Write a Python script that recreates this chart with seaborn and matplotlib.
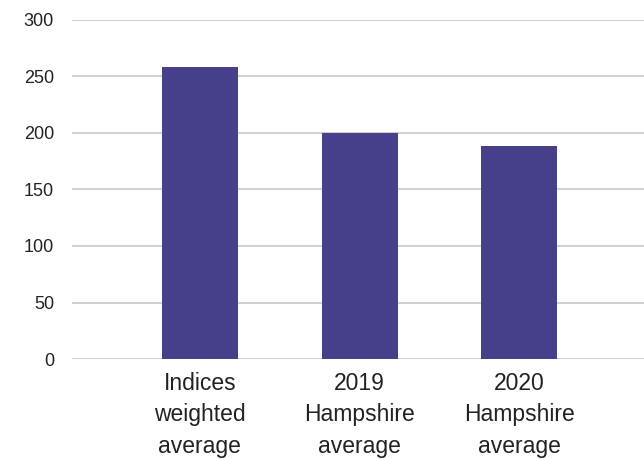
import matplotlib
matplotlib.use("Agg")
import matplotlib.pyplot as plt
import seaborn as sns
import pandas as pd

categories = ["Indices\nweighted\naverage", "2019\nHampshire\naverage", "2020\nHampshire\naverage"]
values = [258, 200, 188.5]
yticks = [0, 50, 100, 150, 200, 250, 300]

sns.set_theme(style="white")
plt.rcParams['font.family'] = ['Liberation Sans', 'DejaVu Sans']

df = pd.DataFrame({"cat": categories, "val": values})

fig = plt.figure(figsize=(6.44, 4.59), dpi=100)
ax = fig.add_axes([72/644, 1-359/459, 1-72/644, (359-20)/459])
sns.barplot(data=df, x="cat", y="val", color="#463f8a", saturation=1, width=0.475,
            linewidth=0, ax=ax, zorder=3)

ax.set_ylim(0, 300)
ax.set_xlim(-0.8, 2.78)
ax.set_yticks(yticks)
ax.set_yticklabels([str(t) for t in yticks])
ax.yaxis.grid(True, color="#c8c8c8", linewidth=1.2, zorder=0)
ax.set_axisbelow(True)
for s in ax.spines.values():
    s.set_visible(False)
ax.set_xlabel("")
ax.set_ylabel("")
ax.tick_params(axis="y", length=0, pad=13, labelsize=13, labelcolor="#222222")
ax.tick_params(axis="x", length=0, pad=9, labelsize=16.5, labelcolor="#222222")
for lbl in ax.get_xticklabels():
    lbl.set_linespacing(1.5)

fig.savefig("out.png", dpi=100)
